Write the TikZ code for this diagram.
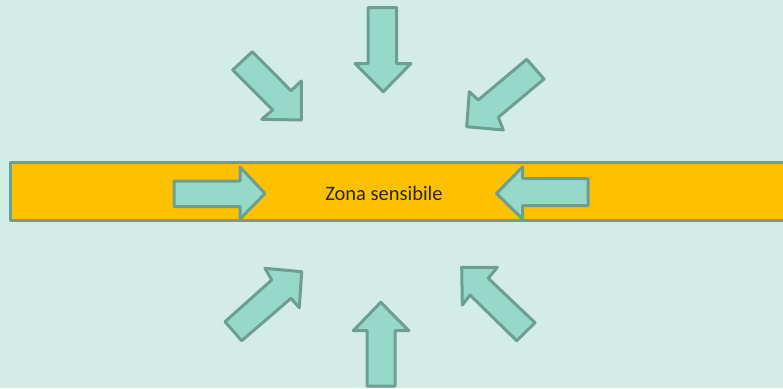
\documentclass[tikz,border=0pt]{standalone}
\usepackage{fontspec}
\setmainfont{Carlito}
\definecolor{bgmint}{HTML}{D3EDE6}
\definecolor{arrowfill}{HTML}{97D9C8}
\definecolor{arrowline}{HTML}{6E9E92}
\definecolor{bandfill}{HTML}{FFC000}
\definecolor{txt}{HTML}{262626}
\tikzset{
  blockarrow/.style={fill=arrowfill, draw=arrowline, line width=3pt, line join=round},
  band/.style={fill=bandfill, draw=arrowline, line width=3pt, line join=round},
  label/.style={text=txt, font=\fontsize{20.5}{23}\selectfont, inner sep=0pt}
}
\begin{document}
\begin{tikzpicture}[x=1pt,y=-1pt]
\useasboundingbox (0,0) rectangle (783,388);
\fill[bgmint] (0,0) rectangle (783,388);
\clip (0,0) rectangle (783,388);
% band
\draw[band] (10,162) rectangle (800,220);
% arrows inside band
\draw[blockarrow] (174,181) -- (240,181) -- (240,167) -- (265,193.5) -- (240,219) -- (240,206.5) -- (174,206.5) -- cycle;
\draw[blockarrow] (588,178.5) -- (522.5,178.5) -- (522.5,167) -- (496.5,193.5) -- (522.5,219) -- (522.5,205.5) -- (588,205.5) -- cycle;
\node[label] (zona) at (384,193) {Zona sensibile};
% top middle (down)
\draw[blockarrow] (368,7.5) -- (396.5,7.5) -- (396.5,63.5) -- (411,63.5) -- (383.3,91.7) -- (355,63.5) -- (368,63.5) -- cycle;
% top left (down-right)
\draw[blockarrow] (232.7,70) -- (252.3,51.7) -- (291,90.7) -- (301.3,81) -- (301.3,120) -- (261.7,119.3) -- (272.7,110) -- cycle;
% top right (down-left)
\draw[blockarrow] (526.7,59.3) -- (544,79) -- (498.3,117.3) -- (503.3,130) -- (466.7,126.7) -- (469.3,91.7) -- (478.3,100) -- cycle;
% bottom middle (up)
\draw[blockarrow] (367,386) -- (395,386) -- (395,330.7) -- (409,330.7) -- (380.7,302.3) -- (353.3,330.7) -- (367,330.7) -- cycle;
% bottom left (up-right)
\draw[blockarrow] (225,321.7) -- (241.7,340.7) -- (291,298.3) -- (299.3,307.7) -- (301.7,271.7) -- (265,268.3) -- (271.7,280) -- cycle;
% bottom right (up-left)
\draw[blockarrow] (535,322.7) -- (516.7,340.7) -- (470,295) -- (462.3,305) -- (461.7,267.3) -- (497.3,267.3) -- (488.3,278.3) -- cycle;
\end{tikzpicture}
\end{document}
